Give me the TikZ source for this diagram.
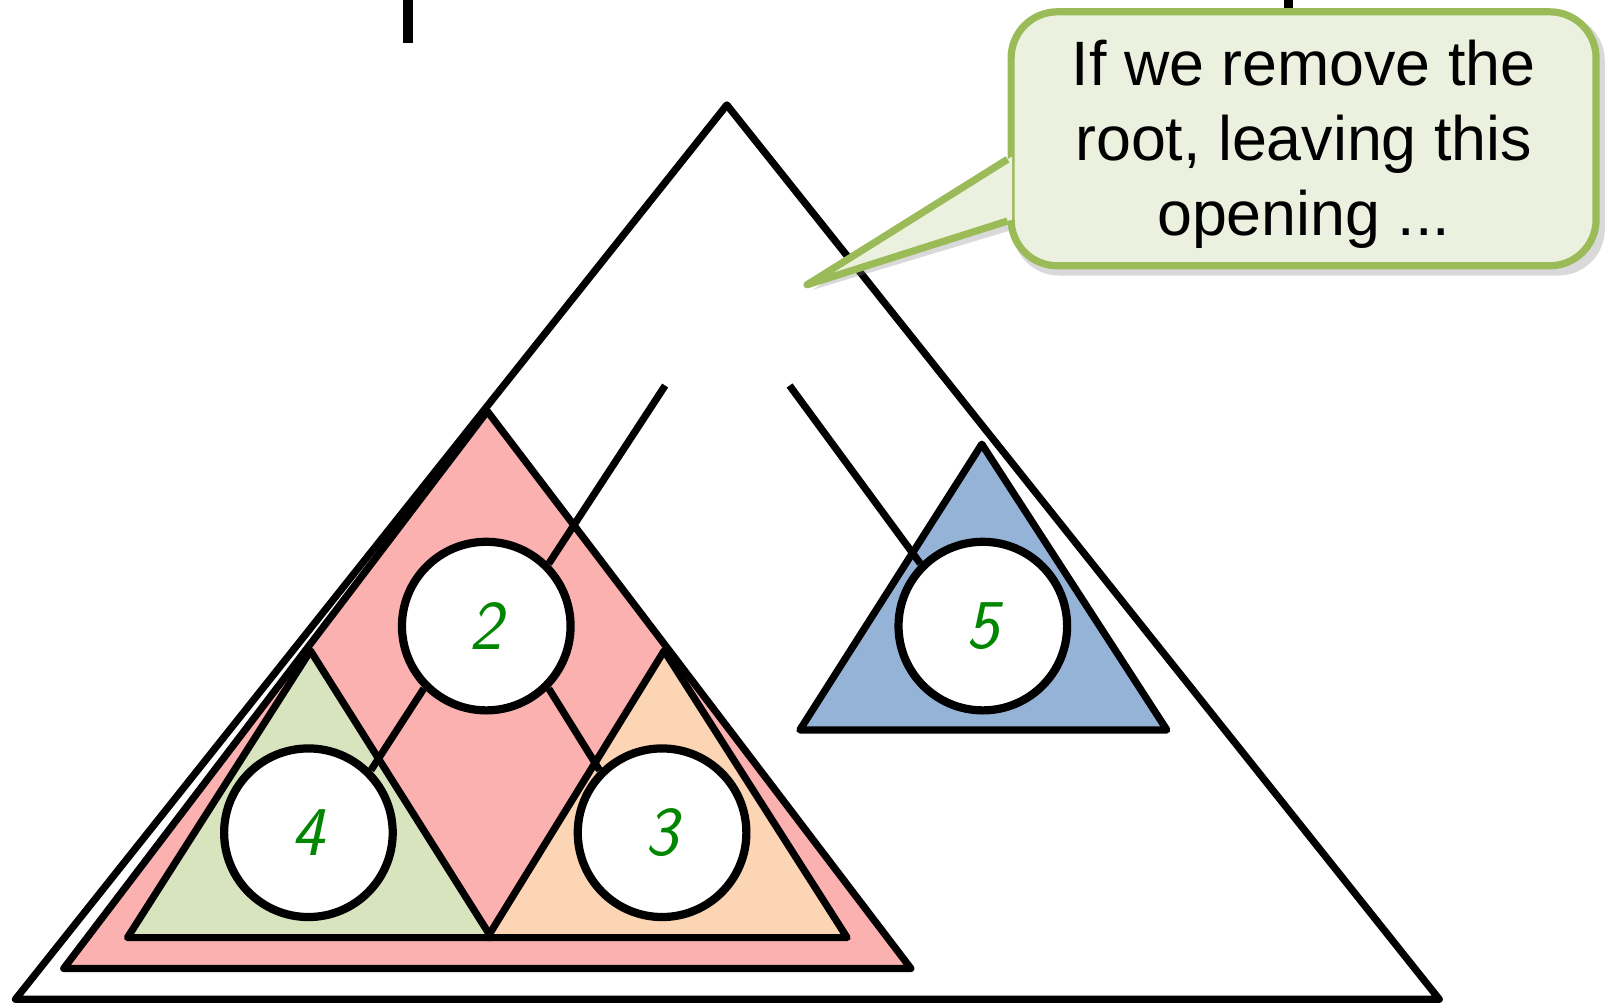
\documentclass[tikz,border=0pt]{standalone}
\usepackage{fontspec}
\setmainfont{Liberation Sans}
\definecolor{redheap}{RGB}{251,177,176}
\definecolor{greenheap}{RGB}{216,228,189}
\definecolor{orangeheap}{RGB}{252,213,181}
\definecolor{blueheap}{RGB}{149,179,215}
\definecolor{keygreen}{RGB}{0,134,0}
\definecolor{notefill}{RGB}{235,241,222}
\definecolor{noteline}{RGB}{155,187,89}
\tikzset{
  tri/.style={draw=black, line width=7pt, line join=round},
  key/.style={circle, draw=black, fill=white, line width=8pt, minimum size=164pt,
    inner sep=0pt, text=keygreen, font=\fontsize{68}{68}\selectfont\sffamily\itshape},
  link/.style={draw=black, line width=7pt},
  note/.style={draw=noteline, fill=notefill, line width=7pt, rounded corners=45pt,
    minimum width=569pt, minimum height=247pt, inner sep=0pt, align=center,
    font=\fontsize{61}{73}\selectfont},
}
\begin{document}
\begin{tikzpicture}[x=1pt, y=-1pt]
	\useasboundingbox (0,0) rectangle (1568,976);
	%heading, cut off
	\fill (392,0) rectangle (402,42);
	\fill (1249,0) rectangle (1258,14);
	%whole heap and its subheaps
	\draw[tri]                   (707,102) -- (1400,972) -- (15,972)  -- cycle;
	\draw[tri, fill=redheap]     (474,400) -- (886,942)  -- (62,942)  -- cycle;
	\draw[tri, fill=greenheap]   (302,633) -- (478,912)  -- (124,912) -- cycle;
	\draw[tri, fill=orangeheap]  (646,633) -- (824,912)  -- (474,912) -- cycle;
	\draw[tri, fill=blueheap]    (955,432) -- (1135,710) -- (778,710) -- cycle;
	%keys
	\node[key] (k2) at (473,609) {2};
	\node[key] (k4) at (300,810) {4};
	\node[key] (k3) at (644,810) {3};
	\node[key] (k5) at (956,609) {5};
	%the opening left by the root
	\coordinate (gapL) at (647,375);
	\coordinate (gapR) at (768,375);
	\draw[link] (gapL) -- (k2.45);
	\draw[link] (gapR) -- (k5.135);
	\draw[link] (k2.225) -- (k4.45);
	\draw[link] (k2.315) -- (k3.135);
	%callout
	\fill[gray, opacity=.3, rounded corners=45pt] (985,14) rectangle (1561,268);
	\fill[gray, opacity=.3] (790,282) -- (990,162) -- (990,222) -- cycle;
	\node[note] (note) at (1268,135) {\rule{0pt}{55pt}If we remove the\\root, leaving this\\opening ...};
	\coordinate (tip) at (785,277);
	\fill[notefill] ([shift={(4.5pt,-17.2pt)}]note.west) -- (tip) -- ([shift={(4.5pt,-78.6pt)}]note.west) -- cycle;
	\draw[noteline, line width=7pt, line join=round] ([yshift=-20pt]note.west) -- (tip) -- ([yshift=-80pt]note.west);
\end{tikzpicture}
\end{document}
